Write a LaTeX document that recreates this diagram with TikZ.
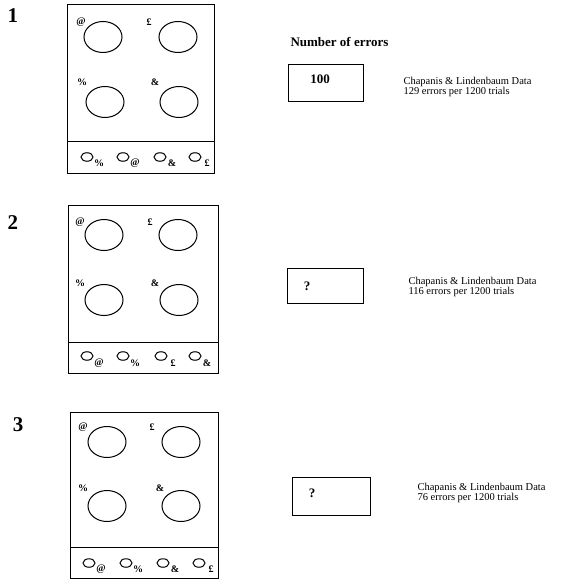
\documentclass[tikz,border=0pt]{standalone}
\usepackage{fontspec}
\setmainfont{Liberation Serif}
\usetikzlibrary{shapes.geometric}
\begin{document}
\begin{tikzpicture}[x=1pt,y=-1pt,line width=1pt,
  burner/.style={draw,ellipse,minimum width=38pt,minimum height=31pt,inner sep=0pt},
  knob/.style={draw,ellipse,minimum width=12pt,minimum height=8.5pt,inner sep=0pt},
  sym/.style={font=\fontsize{10}{10}\selectfont\bfseries,inner sep=0pt},
  num/.style={font=\fontsize{21}{21}\selectfont\bfseries,inner sep=0pt},
  count/.style={font=\fontsize{13}{13}\selectfont\bfseries},
  data/.style={font=\fontsize{10.5}{10.5}\selectfont,align=left,anchor=west,inner sep=0pt}]
\useasboundingbox (0,0) rectangle (563,580);
% stove 1
\node[num] (n1) at (13,16) {1};
\draw (67,5) rectangle (214,173);
\draw (67,142) -- (214,142);
\node[burner] (s1a) at (103,37) {};
\node[burner] (s1b) at (178,37) {};
\node[burner] (s1c) at (105,102) {};
\node[burner] (s1d) at (179,102) {};
\node[sym] (l1a) at (81,22) {@};
\node[sym] (l1b) at (149,22) {£};
\node[sym] (l1c) at (82,82) {\%};
\node[sym] (l1d) at (155,82) {\&};
\node[knob] (k1a) at (87,157) {};
\node[knob] (k1b) at (123,157) {};
\node[knob] (k1c) at (160,157) {};
\node[knob] (k1d) at (195,157) {};
\node[sym] at (99,163) {\%};
\node[sym] at (135,163) {@};
\node[sym] at (172,163) {\&};
\node[sym] at (207,163) {£};
% stove 2
\node[num] (n2) at (13,223) {2};
\draw (68,205) rectangle (218,373);
\draw (68,342) -- (218,342);
\node[burner] (s2a) at (104,235) {};
\node[burner] (s2b) at (178,235) {};
\node[burner] (s2c) at (104,300) {};
\node[burner] (s2d) at (179,300) {};
\node[sym] (l2a) at (80,222) {@};
\node[sym] (l2b) at (150,222) {£};
\node[sym] (l2c) at (80,283) {\%};
\node[sym] (l2d) at (155,283) {\&};
\node[knob] (k2a) at (87,356) {};
\node[knob] (k2b) at (123,356) {};
\node[knob] (k2c) at (161,356) {};
\node[knob] (k2d) at (195,356) {};
\node[sym] at (99,363) {@};
\node[sym] at (135,363) {\%};
\node[sym] at (173,363) {£};
\node[sym] at (207,363) {\&};
% stove 3
\node[num] (n3) at (18,425) {3};
\draw (70,412) rectangle (218,578);
\draw (70,547) -- (218,547);
\node[burner] (s3a) at (107,442) {};
\node[burner] (s3b) at (181,442) {};
\node[burner] (s3c) at (107,506) {};
\node[burner] (s3d) at (181,506) {};
\node[sym] (l3a) at (83,427) {@};
\node[sym] (l3b) at (152,427) {£};
\node[sym] (l3c) at (83,488) {\%};
\node[sym] (l3d) at (160,488) {\&};
\node[knob] (k3a) at (89,563) {};
\node[knob] (k3b) at (126,563) {};
\node[knob] (k3c) at (163,563) {};
\node[knob] (k3d) at (199,563) {};
\node[sym] at (101,569) {@};
\node[sym] at (138,569) {\%};
\node[sym] at (175,569) {\&};
\node[sym] at (211,569) {£};
% errors
\node[count,anchor=west,inner sep=0pt] (head) at (290,42) {Number of errors};
\draw (288,65) rectangle (363,102);
\node[count] (e1) at (320,79) {100};
\node[data] (d1) at (403,87) {Chapanis \& Lindenbaum Data\\129 errors per 1200 trials};
\draw (287,268) rectangle (363,303);
\node[count] (e2) at (307,286) {?};
\node[data] (d2) at (408,287) {Chapanis \& Lindenbaum Data\\116 errors per 1200 trials};
\draw (292,477) rectangle (370,515);
\node[count] (e3) at (312,493) {?};
\node[data] (d3) at (417,493) {Chapanis \& Lindenbaum Data\\76 errors per 1200 trials};
\end{tikzpicture}
\end{document}
